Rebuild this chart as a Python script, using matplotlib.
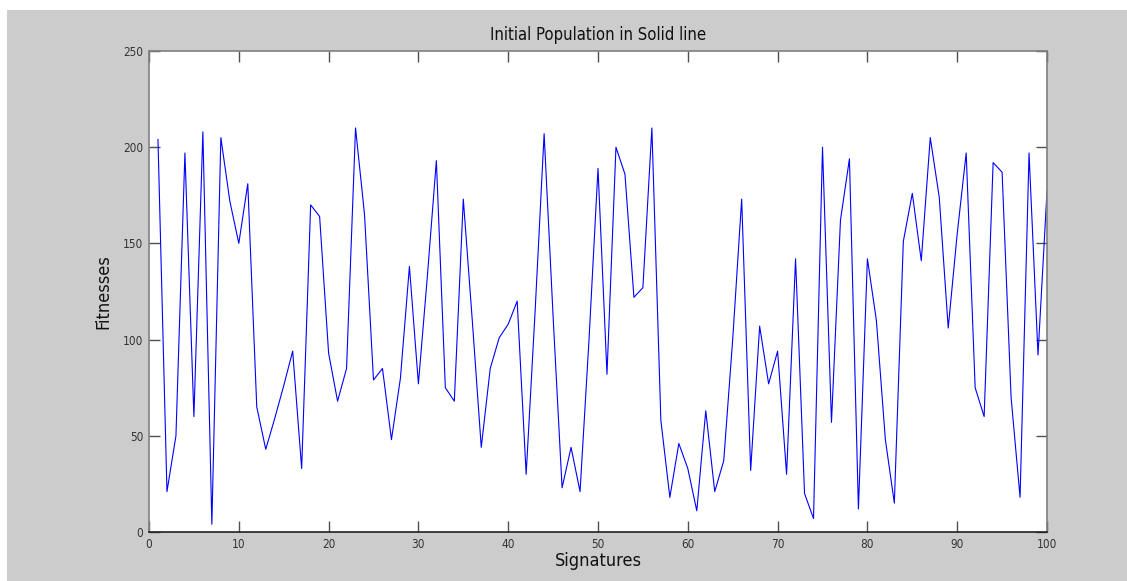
import matplotlib
matplotlib.use("Agg")
import matplotlib.pyplot as plt
from matplotlib.patches import Rectangle

# fitness of each signature in the initial population
signatures = list(range(1, 101))
fitnesses = [
    204, 21, 50, 197, 60, 208, 4, 205, 172, 150,
    181, 65, 43, 59, 76, 94, 33, 170, 164, 93,
    68, 85, 210, 165, 79, 85, 48, 80, 138, 77,
    133, 193, 75, 68, 173, 110, 44, 85, 101, 108,
    120, 30, 115, 207, 112, 23, 44, 21, 100, 189,
    82, 200, 186, 122, 127, 210, 58, 18, 46, 33,
    11, 63, 21, 37, 100, 173, 32, 107, 77, 94,
    30, 142, 20, 7, 200, 57, 162, 194, 12, 142,
    110, 48, 15, 151, 176, 141, 205, 174, 106, 155,
    197, 75, 60, 192, 187, 70, 18, 197, 92, 177,
]
x_ticks = list(range(0, 101, 10))
y_ticks = list(range(0, 251, 50))

plt.rcParams["font.family"] = ["DejaVu Sans"]
plt.rcParams["font.stretch"] = "condensed"

W, H = 1127, 581
fig = plt.figure(figsize=(W / 100, H / 100), dpi=100, facecolor="white")

# grey MATLAB-style window background
fig.patches.append(Rectangle((7 / W, 0), 1, (H - 10) / H, transform=fig.transFigure,
                             facecolor="#cccccc", edgecolor="none", zorder=-10))

ax = fig.add_axes([149 / W, (H - 532) / H, (1047 - 149) / W, (532 - 51) / H])
ax.set_facecolor("white")
ax.plot(signatures, fitnesses, color="#0000ff", linewidth=0.8)

ax.set_xlim(0, 100)
ax.set_ylim(0, 250)
ax.set_xticks(x_ticks)
ax.set_yticks(y_ticks)
ax.tick_params(direction="in", length=8, width=1, colors="#505050",
               labelcolor="#333333", labelsize=8.5, top=True, right=True, pad=4)

for side in ["left", "top", "right"]:
    ax.spines[side].set_color("#808080")
ax.spines["bottom"].set_color("#202020")
for s in ax.spines.values():
    s.set_linewidth(1.2)

ax.set_title("Initial Population in Solid line", fontsize=12, color="#111111", pad=8)
ax.set_xlabel("Signatures", fontsize=13, color="#111111", labelpad=1)
ax.set_ylabel("Fitnesses", fontsize=13, color="#111111", labelpad=8)

plt.savefig("out.png", dpi=100, facecolor=fig.get_facecolor())
